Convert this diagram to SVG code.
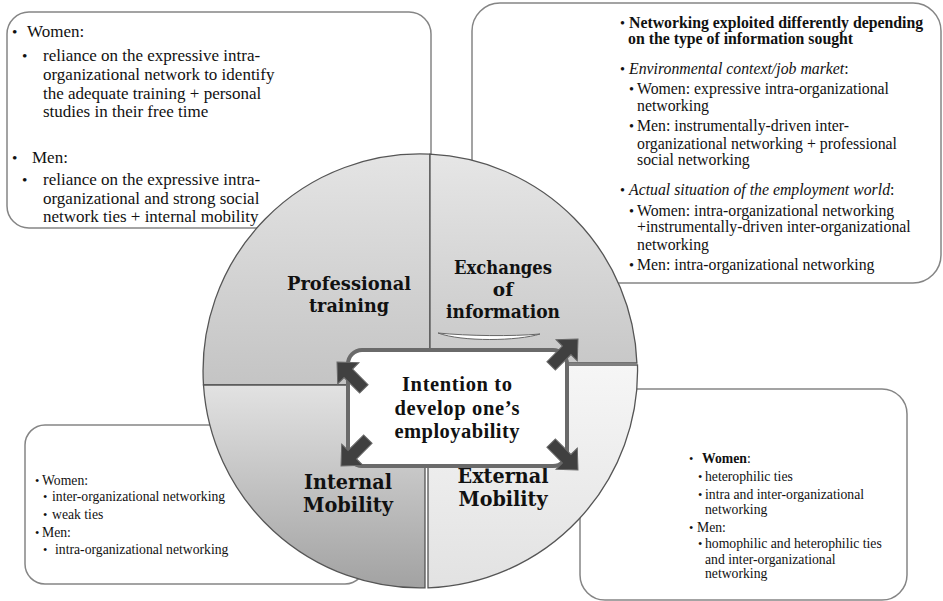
<svg xmlns="http://www.w3.org/2000/svg" width="943" height="601" viewBox="0 0 943 601">
<style>
.box{fill:#fff;stroke:#858585;stroke-width:1.5}
.quad{stroke:#555;stroke-width:1.3}
.body{font-family:"Liberation Serif","Times New Roman",serif;fill:#111}
.b1{font-size:17px}
.b2{font-size:15.8px}
.b3{font-size:13.7px}
.bul{font-size:0.9em}
.lab{font-family:"DejaVu Serif",serif;font-weight:bold;fill:#111;text-anchor:middle}
.ctr{font-family:"Liberation Serif","Times New Roman",serif;font-weight:bold;font-size:20.5px;fill:#111;text-anchor:middle}
.arr{fill:#404040;stroke:#6a6a6a;stroke-width:1}
</style>
<defs>
<linearGradient id="gTL" x1="0" y1="0" x2="0" y2="1"><stop offset="0" stop-color="#e4e4e4"/><stop offset="1" stop-color="#c4c4c4"/></linearGradient>
<linearGradient id="gTR" x1="0" y1="0" x2="0" y2="1"><stop offset="0" stop-color="#e6e6e6"/><stop offset="1" stop-color="#c8c8c8"/></linearGradient>
<linearGradient id="gBL" x1="0" y1="0" x2="0" y2="1"><stop offset="0" stop-color="#e2e2e2"/><stop offset="1" stop-color="#a2a2a2"/></linearGradient>
<linearGradient id="gBR" x1="0" y1="0" x2="0" y2="1"><stop offset="0" stop-color="#f6f6f6"/><stop offset="1" stop-color="#e2e2e2"/></linearGradient>
<polygon id="arrow" points="0,0 -16,-15 -16,-6 -38,-6 -38,6 -16,6 -16,15"/>
</defs>
<rect width="943" height="601" fill="#fff"/>

<g id="box-training">
<rect class="box" x="7" y="12" width="424" height="216" rx="22"/>
<text class="body b1"><tspan x="12" y="37" class="bul">•</tspan><tspan x="27" y="37">Women:</tspan></text>
<text class="body b1"><tspan x="22" y="61" class="bul">•</tspan><tspan x="43" y="61">reliance on the expressive intra-</tspan><tspan x="43" y="80">organizational network to identify</tspan><tspan x="43" y="99">the adequate training + personal</tspan><tspan x="43" y="117">studies in their free time</tspan></text>
<text class="body b1"><tspan x="12" y="163" class="bul">•</tspan><tspan x="32" y="163">Men:</tspan></text>
<text class="body b1"><tspan x="22" y="185" class="bul">•</tspan><tspan x="43" y="185">reliance on the expressive intra-</tspan><tspan x="43" y="204">organizational and strong social</tspan><tspan x="43" y="222">network ties + internal mobility</tspan></text>
</g>

<g id="box-information">
<rect class="box" x="472" y="3" width="469" height="280" rx="28"/>
<text class="body b2"><tspan x="620" y="28" class="bul">•</tspan><tspan x="629" y="28" font-weight="bold">Networking exploited differently depending</tspan><tspan x="628" y="44" font-weight="bold">on the type of information sought</tspan></text>
<text class="body b2"><tspan x="620" y="74" class="bul">•</tspan><tspan x="629" y="74" font-style="italic">Environmental context/job market</tspan><tspan>:</tspan></text>
<text class="body b2"><tspan x="629" y="94" class="bul">•</tspan><tspan x="637" y="94">Women: expressive intra-organizational</tspan><tspan x="637" y="111">networking</tspan></text>
<text class="body b2"><tspan x="629" y="131" class="bul">•</tspan><tspan x="637" y="131">Men: instrumentally-driven inter-</tspan><tspan x="637" y="149">organizational networking + professional</tspan><tspan x="637" y="165">social networking</tspan></text>
<text class="body b2"><tspan x="620" y="195" class="bul">•</tspan><tspan x="629" y="195" font-style="italic">Actual situation of the employment world</tspan><tspan>:</tspan></text>
<text class="body b2"><tspan x="629" y="216" class="bul">•</tspan><tspan x="637" y="216">Women: intra-organizational networking</tspan><tspan x="637" y="232">+instrumentally-driven inter-organizational</tspan><tspan x="637" y="250">networking</tspan></text>
<text class="body b2"><tspan x="629" y="270" class="bul">•</tspan><tspan x="637" y="270">Men: intra-organizational networking</tspan></text>
</g>

<g id="box-internal">
<rect class="box" x="25" y="425" width="340" height="159" rx="20"/>
<text class="body b3"><tspan x="35" y="485" class="bul">•</tspan><tspan x="42" y="485">Women:</tspan></text>
<text class="body b3"><tspan x="43" y="501" class="bul">•</tspan><tspan x="52" y="501">inter-organizational networking</tspan></text>
<text class="body b3"><tspan x="43" y="519" class="bul">•</tspan><tspan x="52" y="519">weak ties</tspan></text>
<text class="body b3"><tspan x="35" y="537" class="bul">•</tspan><tspan x="42" y="537">Men:</tspan></text>
<text class="body b3"><tspan x="43" y="554" class="bul">•</tspan><tspan x="55" y="554">intra-organizational networking</tspan></text>
</g>

<g id="box-external">
<rect class="box" x="580" y="389" width="327" height="211" rx="25"/>
<text class="body b3"><tspan x="689" y="463" class="bul">•</tspan><tspan x="702" y="463" font-weight="bold">Women</tspan><tspan>:</tspan></text>
<text class="body b3"><tspan x="698" y="481" class="bul">•</tspan><tspan x="705" y="481">heterophilic ties</tspan></text>
<text class="body b3"><tspan x="698" y="499" class="bul">•</tspan><tspan x="705" y="499">intra and inter-organizational</tspan><tspan x="705" y="514">networking</tspan></text>
<text class="body b3"><tspan x="689" y="532" class="bul">•</tspan><tspan x="697" y="532">Men:</tspan></text>
<text class="body b3"><tspan x="698" y="548" class="bul">•</tspan><tspan x="705" y="548">homophilic and heterophilic ties</tspan><tspan x="705" y="564">and inter-organizational</tspan><tspan x="705" y="578">networking</tspan></text>
</g>

<g id="q-training">
<path class="quad" fill="url(#gTL)" d="M430,385 L203.5,385 A217,217 0 0 1 430,154.2 Z"/>
<text class="lab" font-size="18.5"><tspan x="349" y="290" textLength="124" lengthAdjust="spacingAndGlyphs">Professional</tspan><tspan x="349" y="312" textLength="80" lengthAdjust="spacingAndGlyphs">training</tspan></text>
</g>
<g id="q-information">
<path class="quad" fill="url(#gTR)" d="M430,363 L430,154.2 A217,217 0 0 1 636.9,363 Z"/>
<text class="lab" font-size="18.5"><tspan x="503" y="274" textLength="98" lengthAdjust="spacingAndGlyphs">Exchanges</tspan><tspan x="503" y="295.5">of</tspan><tspan x="503" y="317.5" textLength="114" lengthAdjust="spacingAndGlyphs">information</tspan></text>
<path d="M438,333 C462,342 518,341 540,334 C512,336.5 468,336 438,333 Z" fill="#fff" stroke="#666" stroke-width="1"/>
</g>
<g id="q-external">
<path class="quad" fill="url(#gBR)" d="M428,365 L637.5,365 A217.5,217.5 0 0 1 428,587.9 Z"/>
<text class="lab" font-size="19.5"><tspan x="503" y="483" textLength="91" lengthAdjust="spacingAndGlyphs">External</tspan><tspan x="503" y="506" textLength="89" lengthAdjust="spacingAndGlyphs">Mobility</tspan></text>
</g>
<g id="q-internal">
<path class="quad" fill="url(#gBL)" d="M425,385 L425,587.9 A217,217 0 0 1 203.5,385 Z"/>
<text class="lab" font-size="19.5"><tspan x="348" y="488.5" textLength="88" lengthAdjust="spacingAndGlyphs">Internal</tspan><tspan x="348" y="511.5" textLength="90" lengthAdjust="spacingAndGlyphs">Mobility</tspan></text>
</g>

<g id="center">
<rect x="350" y="352" width="219" height="116" rx="14" fill="#9a9a9a" opacity="0.5"/>
<rect x="348" y="350" width="219" height="116" rx="14" fill="#fff" stroke="#6a6a6a" stroke-width="4"/>
<text class="ctr"><tspan x="457" y="390.5" textLength="110">Intention to</tspan><tspan x="457" y="414.5" textLength="125">develop one’s</tspan><tspan x="457" y="438" textLength="125">employability</tspan></text>
</g>

<g id="connectors">
<use href="#arrow" class="arr" transform="translate(337,362) rotate(-135)"/>
<use href="#arrow" class="arr" transform="translate(578,339) rotate(-45)"/>
<use href="#arrow" class="arr" transform="translate(341,466) rotate(135)"/>
<use href="#arrow" class="arr" transform="translate(578,470) rotate(45)"/>
</g>
</svg>
